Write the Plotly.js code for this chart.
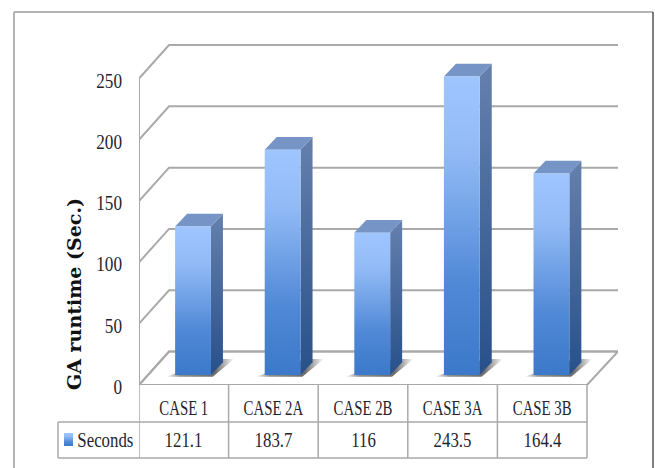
<!DOCTYPE html>
<html>
<head>
<meta charset="utf-8">
<script src="https://cdn.plot.ly/plotly-3.0.1.min.js"></script>
<style>html,body{margin:0;padding:0;background:#fff}</style>
</head>
<body>
<div id="chart" style="width:655px;height:468px"></div>
<script>
// GA runtime per test case
const categories = ["CASE 1", "CASE 2A", "CASE 2B", "CASE 3A", "CASE 3B"];
const seconds = [121.1, 183.7, 116, 243.5, 164.4];
const valueTicks = [0, 50, 100, 150, 200, 250];
const seriesName = "Seconds";
const yTitle = "GA runtime (Sec.)";

// Oblique projection of the 3-D column chart, in axis units
const wallDx = 0.335, wallDy = 27.3;      // depth of the back wall
const barDx = 0.103, barDy = 8.2;         // bars stand this far behind the front edge
const depthDx = 0.134, depthDy = 10.3;    // depth of one column
const barHalf = 0.2;
const xMin = -0.5, xMax = 4.846, xFront = 4.5;

const W = 655, H = 468;
const plotLeft = 139, plotRight = 618, plotTop = 40, plotBottom = 385;
const yMax = (plotBottom - plotTop) / 1.226;
// page-pixel helpers for the frame and the data table
const px = v => v / W;
const py = v => 1 - v / H;

const GRID = "#a9a9a9", serif = "Liberation Serif", TXT = "#1f2430";
const FRONT_SCALE = [[0, "#3c79c9"], [0.3, "#4f88d6"], [0.75, "#92bbf6"], [1, "#9fc5ff"]];
const traces = [];
const poly = (xs, ys, extra) => traces.push(Object.assign({
  x: xs, y: ys, mode: "lines", fill: "toself", hoverinfo: "skip", showlegend: false, line: {width: 0}
}, extra));
const stroke = (xs, ys) => traces.push({
  x: xs, y: ys, mode: "lines", hoverinfo: "skip", showlegend: false, line: {color: GRID, width: 2}
});

// floor and wall grid
poly([xMin, xFront, xMax, xMin + wallDx, xMin], [0, 0, wallDy, wallDy, 0], {fillcolor: "#ffffff", line: {color: GRID, width: 2}});
valueTicks.forEach(t => stroke([xMin, xMin + wallDx, xMax], [t, t + wallDy, t + wallDy]));
stroke([xMin, xMin], [0, valueTicks[valueTicks.length - 1]]);

// columns
seconds.forEach((v, i) => {
  const l = i + barDx - barHalf, r = i + barDx + barHalf, b = barDy, t = barDy + v;
  // contact shadow on the floor
  poly([l - 0.1, r + 0.02, r + 0.26, r + 0.05, l - 0.1], [b - 1.5, b - 1.5, b + 13, b + 13, b - 1.5], {
    fillgradient: {type: "horizontal", colorscale: [[0, "rgba(70,70,70,0)"], [0.2, "rgba(70,70,70,0.6)"], [0.72, "rgba(70,70,70,0.8)"], [1, "rgba(70,70,70,0)"]]}
  });
  // side face
  poly([r, r + depthDx, r + depthDx, r, r], [b, b + depthDy, t + depthDy, t, b], {
    fillgradient: {type: "vertical", colorscale: [[0, "#27508a"], [1, "#6580ad"]]}
  });
  // top face
  poly([l, r, r + depthDx, l + depthDx, l], [t, t, t + depthDy, t + depthDy, t], {fillcolor: "#7694c6"});
  // front face
  poly([l, r, r, l, l], [b, b, t, t, b], {fillgradient: {type: "vertical", colorscale: FRONT_SCALE}});
});

// legend key of the data table, on a page-wide helper subplot
poly([px(64), px(73), px(73), px(64), px(64)], [py(446), py(446), py(433), py(433), py(446)], {
  xaxis: "x2", yaxis: "y2", fillgradient: {type: "vertical", colorscale: FRONT_SCALE}
});

// frame and data-table rules
const rowTop = py(422), rowBottom = py(458);
const rule = (x0, y0, x1, y1, color, width) => ({xref: "paper", yref: "paper", type: "line", x0, y0, x1, y1, line: {color, width}});
const shapes = [
  rule(px(14), py(12), px(14), py(468), "#b4b4b4", 2),
  rule(px(14), py(12), px(653), py(12), "#b4b4b4", 2),
  rule(px(653), py(12), px(653), py(468), "#555555", 1.5),
  rule(px(58), rowTop, px(587), rowTop, GRID, 1.5),
  rule(px(58), rowBottom, px(587), rowBottom, GRID, 1.5),
  rule(px(58), rowTop, px(58), rowBottom, GRID, 1.5)
];
categories.concat([""]).forEach((c, i) => shapes.push({
  xref: "x", yref: "paper", type: "line", x0: i - 0.5, x1: i - 0.5, y0: py(plotBottom), y1: rowBottom, line: {color: GRID, width: 1.5}
}));

const annotations = seconds.map((v, i) => ({
  xref: "x", yref: "paper", x: i, y: py(440), yanchor: "middle", text: String(v), showarrow: false,
  font: {family: serif, size: 20, color: TXT}
}));
annotations.push({
  xref: "paper", yref: "paper", x: px(105.5), y: py(440), xanchor: "center", yanchor: "middle", text: seriesName, showarrow: false,
  font: {family: serif, size: 20, color: TXT}
});
annotations.push({
  xref: "paper", yref: "paper", x: px(74), y: py(294), textangle: -90, xanchor: "center", yanchor: "middle", text: yTitle, showarrow: false,
  font: {family: "DejaVu Serif", size: 19, color: "#111111", weight: 700}
});

Plotly.newPlot("chart", traces, {
  width: W, height: H, margin: {l: 0, r: 0, t: 0, b: 0}, showlegend: false,
  paper_bgcolor: "#ffffff", plot_bgcolor: "rgba(0,0,0,0)",
  xaxis: {
    domain: [px(plotLeft), px(plotRight)], anchor: "y",
    range: [xMin, xMax], tickmode: "array", tickvals: categories.map((c, i) => i), ticktext: categories,
    showgrid: false, zeroline: false, showline: false, ticks: "outside", ticklen: 5, tickcolor: "rgba(0,0,0,0)", fixedrange: true,
    tickfont: {family: serif, size: 20, color: TXT}
  },
  yaxis: {
    domain: [py(plotBottom), py(plotTop)], anchor: "x",
    range: [0, yMax], tickmode: "array", tickvals: valueTicks, ticktext: valueTicks.map(String),
    showgrid: false, zeroline: false, showline: false, ticks: "outside", ticklen: 12, tickcolor: "rgba(0,0,0,0)", fixedrange: true,
    ticklabelshift: 2,
    tickfont: {family: serif, size: 20, color: TXT}
  },
  xaxis2: {domain: [0, 1], range: [0, 1], anchor: "y2", visible: false, fixedrange: true},
  yaxis2: {domain: [0, 1], range: [0, 1], anchor: "x2", visible: false, fixedrange: true},
  shapes, annotations
}, {displayModeBar: false, staticPlot: true}).then(gd => {
  // the chart's serif labels are set in a condensed cut: narrow the glyphs natively
  const condense = (sel, factor) => gd.querySelectorAll(sel).forEach(el => {
    if (el.textContent === yTitle) return;
    el.setAttribute("lengthAdjust", "spacingAndGlyphs");
    el.setAttribute("textLength", el.getComputedTextLength() * factor);
  });
  condense(".xtick text", 0.74);
  condense(".ytick text", 0.86);
  condense(".annotation-text", 0.84);
});
</script>
</body>
</html>
